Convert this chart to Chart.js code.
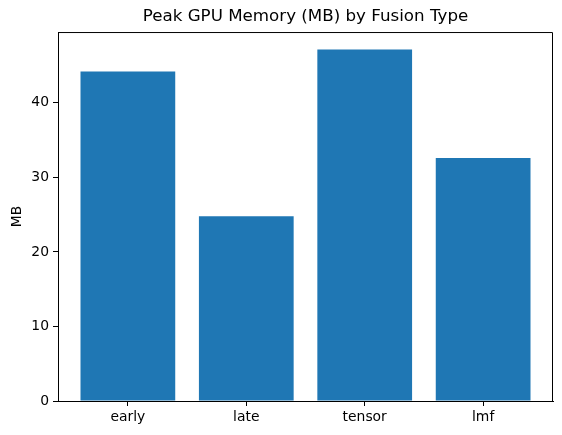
<!DOCTYPE html>
<html>
<head>
<meta charset="utf-8">
<script src="https://cdn.jsdelivr.net/npm/chart.js@4"></script>
<style>
  html, body { margin: 0; padding: 0; background: #fff; }
  canvas { display: block; }
</style>
</head>
<body>
<canvas id="memChart" width="562" height="435"></canvas>
<script>
// 데이터
const fusionTypes = ["early", "late", "tensor", "lmf"];
const peakMemoryMB = [44.2, 24.8, 47.15, 32.6];
const yTickValues = [0, 10, 20, 30, 40];

const FONT = "'DejaVu Sans', sans-serif";

// 위/오른쪽 테두리 (matplotlib spine) + 제목을 plot 영역 가운데로
const frameBox = {
  id: "frameBox",
  afterLayout(chart) {
    const t = chart.titleBlock;
    if (t) {
      t.left = chart.chartArea.left;
      t.right = chart.chartArea.right;
      t.width = t.right - t.left;
    }
  },
  afterDatasetsDraw(chart) {
    const { ctx, chartArea: a } = chart;
    ctx.save();
    ctx.strokeStyle = "#000";
    ctx.lineWidth = 1;
    ctx.beginPath();
    ctx.moveTo(a.left, a.top + 0.5);
    ctx.lineTo(a.right - 0.5, a.top + 0.5);
    ctx.lineTo(a.right - 0.5, a.bottom);
    ctx.stroke();
    ctx.restore();
  },
};

const ctx = document.getElementById("memChart").getContext("2d");

new Chart(ctx, {
  type: "bar",
  data: {
    datasets: [
      {
        data: peakMemoryMB.map((v, i) => ({ x: i, y: v })),
        backgroundColor: "#1f77b4",
        borderWidth: 0,
        categoryPercentage: 1.0,
        barPercentage: 0.8,
      },
    ],
  },
  options: {
    responsive: false,
    animation: false,
    layout: { padding: { left: 0, right: 9, top: 0, bottom: 0 } },
    plugins: {
      legend: { display: false },
      tooltip: { enabled: false },
      title: {
        display: true,
        text: "Peak GPU Memory (MB) by Fusion Type",
        color: "#000",
        font: { family: FONT, size: 16.7, weight: "normal", lineHeight: 1.2 },
        padding: { top: 7, bottom: 5 },
      },
    },
    scales: {
      x: {
        type: "linear",
        offset: false,
        min: -0.59,
        max: fusionTypes.length - 1 + 0.59,
        afterBuildTicks: (scale) => {
          scale.ticks = fusionTypes.map((_, i) => ({ value: i }));
        },
        afterFit: (scale) => {
          scale.height = 34;
        },
        ticks: {
          color: "#000",
          font: { family: FONT, size: 13.9 },
          padding: 3,
          maxRotation: 0,
          autoSkip: false,
          callback: (v) => fusionTypes[v] ?? "",
        },
        grid: {
          offset: false,
          drawOnChartArea: false,
          drawTicks: true,
          tickLength: 5,
          color: "#000",
        },
        border: { display: true, color: "#000", width: 1 },
      },
      y: {
        min: 0,
        max: 49.5,
        afterBuildTicks: (scale) => {
          scale.ticks = yTickValues.map((v) => ({ value: v }));
        },
        afterFit: (scale) => {
          scale.width = 58;
        },
        ticks: {
          color: "#000",
          font: { family: FONT, size: 13.9 },
          padding: 4,
        },
        grid: {
          drawOnChartArea: false,
          drawTicks: true,
          tickLength: 5,
          color: "#000",
        },
        border: { display: true, color: "#000", width: 1 },
        title: {
          display: true,
          text: "MB",
          color: "#000",
          font: { family: FONT, size: 13.9, lineHeight: 1.2 },
          padding: { top: 9, bottom: 0 },
        },
      },
    },
  },
  plugins: [frameBox],
});
</script>
</body>
</html>
